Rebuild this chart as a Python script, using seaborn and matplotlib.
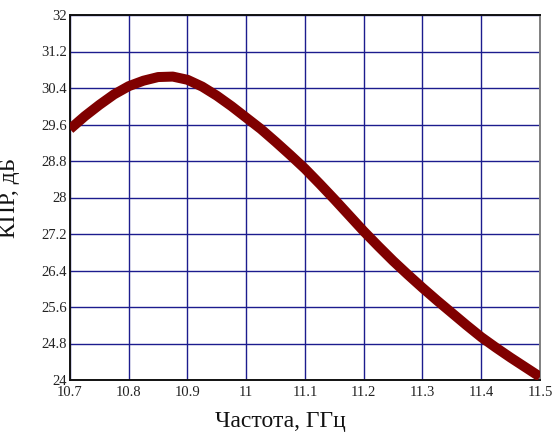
import matplotlib
matplotlib.use("Agg")
import matplotlib.pyplot as plt
import seaborn as sns
import pandas as pd

freq = [10.70, 10.725, 10.75, 10.775, 10.80, 10.825, 10.85, 10.875, 10.90, 10.925,
        10.95, 10.975, 11.00, 11.025, 11.05, 11.075, 11.10, 11.125, 11.15, 11.175,
        11.20, 11.225, 11.25, 11.275, 11.30, 11.325, 11.35, 11.375, 11.40, 11.425,
        11.45, 11.475, 11.50]
kpr = [29.50, 29.78, 30.03, 30.26, 30.44, 30.56, 30.64, 30.65, 30.58, 30.43,
       30.23, 30.00, 29.75, 29.50, 29.22, 28.93, 28.63, 28.30, 27.96, 27.61,
       27.26, 26.93, 26.61, 26.31, 26.02, 25.74, 25.47, 25.20, 24.94, 24.71,
       24.49, 24.28, 24.07]
xticks = [10.7, 10.8, 10.9, 11.0, 11.1, 11.2, 11.3, 11.4, 11.5]
xticklabels = ["10.7", "10.8", "10.9", "11", "11.1", "11.2", "11.3", "11.4", "11.5"]
yticks = [24, 24.8, 25.6, 26.4, 27.2, 28, 28.8, 29.6, 30.4, 31.2, 32]
yticklabels = ["24", "24.8", "25.6", "26.4", "27.2", "28", "28.8", "29.6", "30.4", "31.2", "32"]

sns.set_style("white")
plt.rcParams['font.family'] = ['Liberation Serif', 'DejaVu Serif']

df = pd.DataFrame({"f": freq, "k": kpr})

fig = plt.figure(figsize=(5.55, 4.37), dpi=100)
ax = fig.add_axes([70/555, 1-380/437, 470/555, 365/437])

sns.lineplot(data=df, x="f", y="k", ax=ax, color="#800000", linewidth=7.2,
             solid_joinstyle="round", solid_capstyle="butt", zorder=3)

ax.set_xlim(10.7, 11.5)
ax.set_ylim(24, 32)
ax.set_xticks(xticks)
ax.set_xticklabels(xticklabels)
ax.set_yticks(yticks)
ax.set_yticklabels(yticklabels)
ax.grid(True, color="#1c1c8e", linewidth=1.0)
ax.set_axisbelow(True)
ax.tick_params(axis="both", length=0, labelsize=10.5, colors="#222222")
ax.tick_params(axis="x", pad=4)
ax.tick_params(axis="y", pad=2)

for s in ["left", "bottom", "top"]:
    ax.spines[s].set_color("#111111")
    ax.spines[s].set_linewidth(1.4)
ax.spines["right"].set_color("#808080")
ax.spines["right"].set_linewidth(1.4)

ax.set_xlabel("Частота, ГГц", fontsize=17, color="#111111")
ax.set_ylabel("КПР, дБ", fontsize=17, color="#111111")
ax.xaxis.set_label_coords(0.447, -0.085)
ax.yaxis.set_label_coords(-0.106, 0.5)

fig.savefig("out.png", dpi=100, facecolor="white")
